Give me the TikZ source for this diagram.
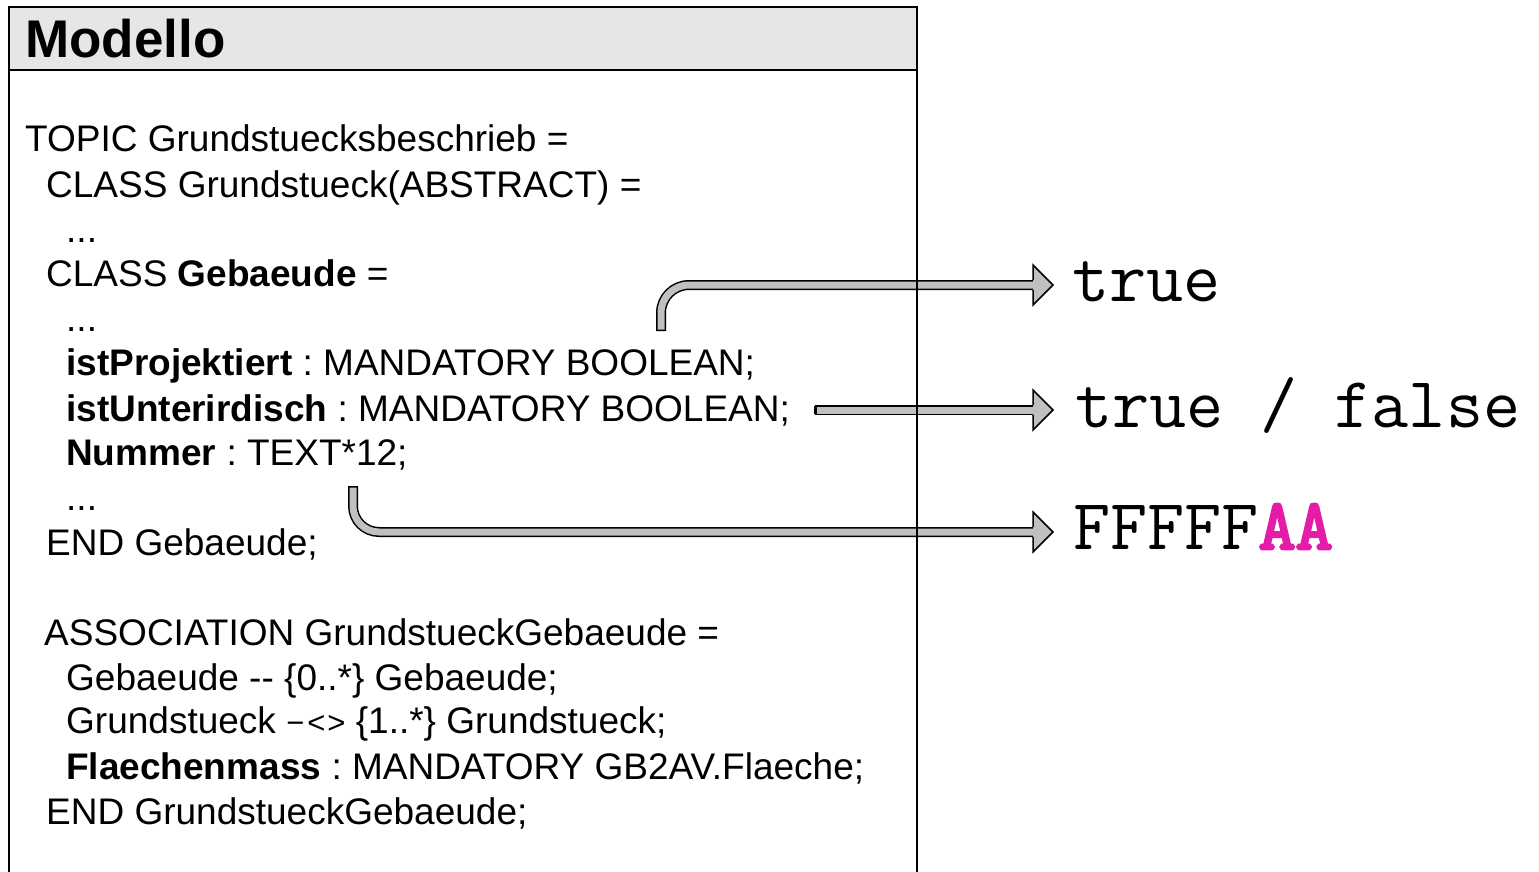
\documentclass[tikz,border=0pt]{standalone}
\usepackage{fontspec}
\setmainfont{Liberation Sans}
\newfontfamily\ttboldfont{Latin Modern Mono}[FakeBold=4]
\definecolor{hdrgray}{RGB}{230,230,230}
\definecolor{arrgray}{RGB}{192,192,192}
\definecolor{magentaA}{RGB}{228,28,168}
\frenchspacing
\begin{document}
\begin{tikzpicture}[x=1pt,y=-1pt,
  code/.style={anchor=base west,inner sep=0pt,font=\fontsize{37}{44}\selectfont},
  val/.style={anchor=base west,inner sep=0pt,font=\ttfamily\fontsize{72}{80}\selectfont},
  shaftout/.style={line width=10pt,black,line cap=butt},
  shaftin/.style={line width=7pt,arrgray,line cap=butt,shorten <=1.5pt},
  headfill/.style={fill=arrgray,draw=none},
  headline/.style={draw=black,line width=1.5pt,line join=miter}]
\useasboundingbox (0,0) rectangle (1539,872);

% header
\fill[hdrgray] (9,7) rectangle (917,70);
\node[anchor=base west,inner sep=0pt,font=\bfseries\fontsize{53}{60}\selectfont] (title) at (25,58) {Modello};

% code lines
\node[code] (l1) at (25,152) {TOPIC Grundstuecksbeschrieb =};
\node[code] (l2) at (46,197) {CLASS Grundstueck(ABSTRACT) =};
\node[code] (l3) at (66,242) {...};
\node[code] (l4) at (46,286) {CLASS \textbf{Gebaeude} =};
\node[code] (l5) at (66,331) {...};
\node[code] (l6) at (66,375) {\textbf{istProjektiert} : MANDATORY BOOLEAN;};
\node[code] (l7) at (66,421) {\textbf{istUnterirdisch} : MANDATORY BOOLEAN;};
\node[code] (l8) at (66,465) {\textbf{Nummer} : TEXT*12;};
\node[code] (l9) at (66,510) {...};
\node[code] (l10) at (46,555) {END Gebaeude;};
\node[code] (l11) at (44,645) {ASSOCIATION GrundstueckGebaeude =};
\node[code] (l12) at (66,690) {Gebaeude -{}- \{0..*\} Gebaeude;};
\node[code] (l13) at (66,733) {Grundstueck {\fontsize{31}{36}\selectfont −\hspace{3pt}<\hspace{2pt}>} \{1..*\} Grundstueck;};
\node[code] (l14) at (66,779) {\textbf{Flaechenmass} : MANDATORY GB2AV.Flaeche;};
\node[code] (l15) at (46,824) {END GrundstueckGebaeude;};

% values
\node[val] (t1) at (1072,301) {true};
\node[val] (t2) at (1075,427) {true / false};
\node[val] (t3) at (1073,549) {FFFFF{\ttboldfont\fontsize{72}{80}\selectfont\textcolor{magentaA}{AA}}};

% arrow coordinates
\coordinate (a1s) at (661,331);
\coordinate (a1e) at (1033,285);
\coordinate (a2s) at (815,410);
\coordinate (a2e) at (1033,410);
\coordinate (a3s) at (353,486);
\coordinate (a3e) at (1033,532);

% arrow 1
\draw[shaftout,rounded corners=28pt] (a1s) -- (a1s |- a1e) -- (a1e);
\fill[headfill] ([yshift=-20pt]a1e) -- ([xshift=20pt]a1e) -- ([yshift=20pt]a1e) -- cycle;
\draw[shaftin,rounded corners=28pt] (a1s) -- (a1s |- a1e) -- ([xshift=1pt]a1e);
\draw[headline] ([yshift=-4.8pt]a1e) -- ([yshift=-20pt]a1e) -- ([xshift=20pt]a1e) -- ([yshift=20pt]a1e) -- ([yshift=4.8pt]a1e);

% arrow 2
\draw[shaftout] (a2s) -- (a2e);
\fill[headfill] ([yshift=-20pt]a2e) -- ([xshift=20pt]a2e) -- ([yshift=20pt]a2e) -- cycle;
\draw[shaftin] (a2s) -- ([xshift=1pt]a2e);
\draw[black,line width=1.5pt] ([yshift=-4.25pt]a2s) -- ([yshift=4.25pt]a2s);
\draw[headline] ([yshift=-4.8pt]a2e) -- ([yshift=-20pt]a2e) -- ([xshift=20pt]a2e) -- ([yshift=20pt]a2e) -- ([yshift=4.8pt]a2e);

% arrow 3
\draw[shaftout,rounded corners=26pt] (a3s) -- (a3s |- a3e) -- (a3e);
\fill[headfill] ([yshift=-20pt]a3e) -- ([xshift=20pt]a3e) -- ([yshift=20pt]a3e) -- cycle;
\draw[shaftin,rounded corners=26pt] (a3s) -- (a3s |- a3e) -- ([xshift=1pt]a3e);
\draw[headline] ([yshift=-4.8pt]a3e) -- ([yshift=-20pt]a3e) -- ([xshift=20pt]a3e) -- ([yshift=20pt]a3e) -- ([yshift=4.8pt]a3e);

% box outline
\draw[line width=2.5pt] (9,872) -- (9,7) -- (917,7) -- (917,872);
\draw[line width=2.5pt] (9,70) -- (917,70);
\end{tikzpicture}
\end{document}
